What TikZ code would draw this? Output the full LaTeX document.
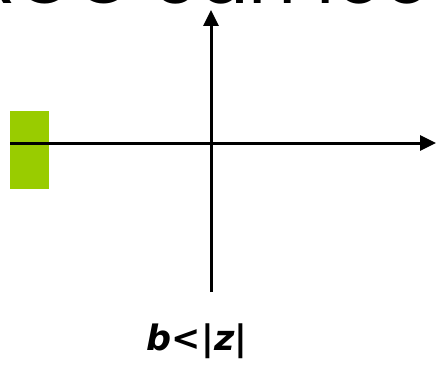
\documentclass[tikz,border=0pt]{standalone}
\usepackage{fontspec}
\setmainfont{Liberation Sans}
\newfontfamily\titlefont{Poppins}
\newfontfamily\labelfont{DejaVu Sans}
\usetikzlibrary{arrows.meta}
\definecolor{roc}{RGB}{153,204,0}
\begin{document}
\begin{tikzpicture}[x=1pt,y=1pt,
  axis/.style={line width=3pt,-{Triangle[length=16pt,width=15pt]}},
  region/.style={fill=roc,draw=none,inner sep=0pt,outer sep=0pt,minimum width=39pt,minimum height=78pt}]
\useasboundingbox (0,0) rectangle (436,381);
\node[anchor=base west,font=\titlefont\fontsize{75}{75}\selectfont,inner sep=0pt] (title) at (-30,377) {ROC can look};
\node[region] (roc) at (29.5,231) {};
\coordinate (xs) at (10,238);
\coordinate (xe) at (436,238);
\coordinate (ys) at (211,89);
\coordinate (ye) at (211,371);
\draw[axis] (xs) -- (xe);
\draw[axis] (ys) -- (ye);
\node[font=\labelfont\bfseries\itshape\fontsize{35}{35}\selectfont,anchor=base,inner sep=0pt] (lbl) at (197,31) {b<|z|};
\end{tikzpicture}
\end{document}
